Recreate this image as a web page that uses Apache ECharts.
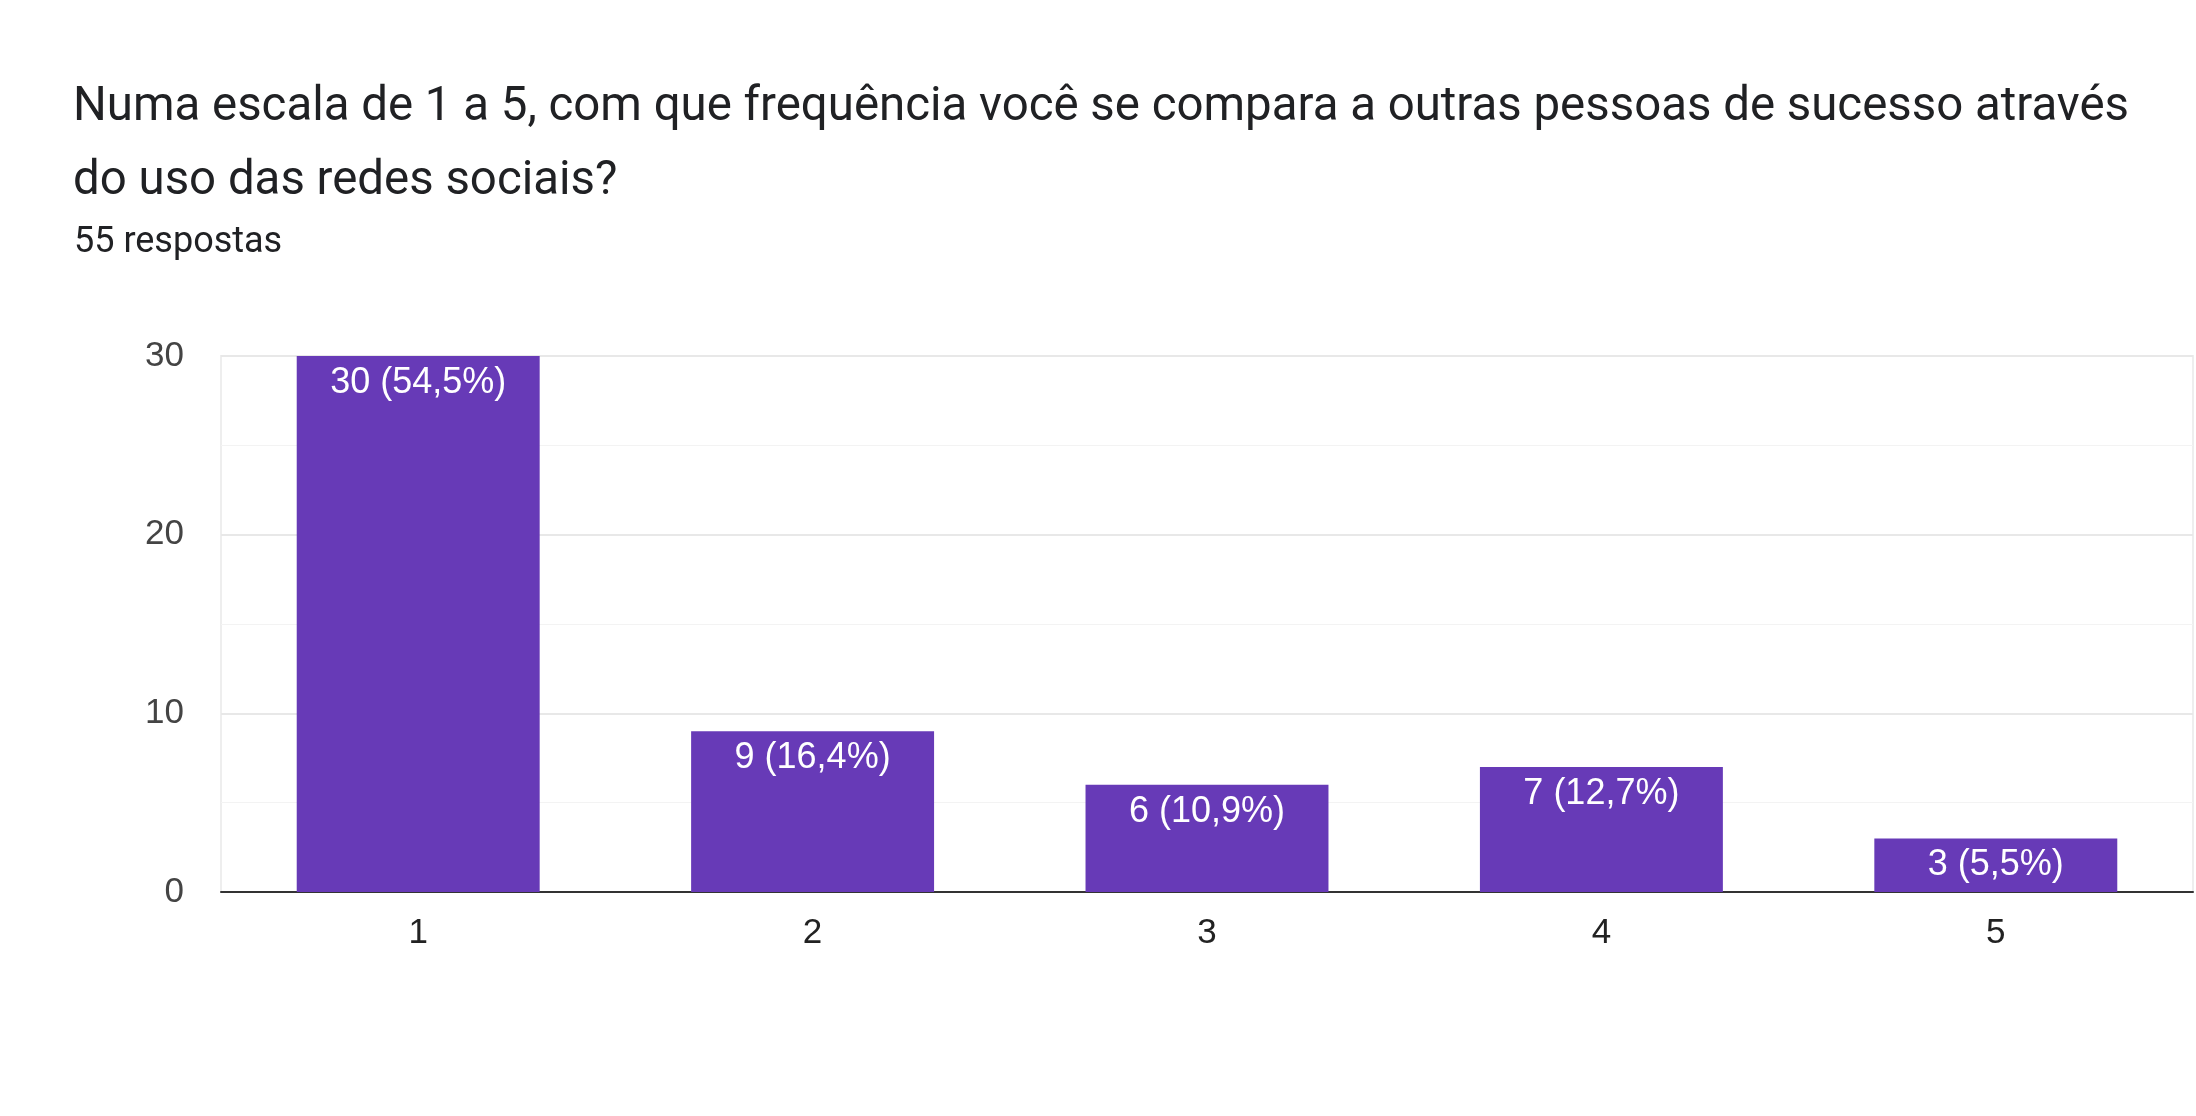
<!DOCTYPE html>
<html>
<head>
<meta charset="utf-8">
<title>55 respostas</title>
<script src="https://cdn.jsdelivr.net/npm/echarts@6/dist/echarts.min.js"></script>
<style>
  html, body { margin: 0; padding: 0; background: #fff; }
  #chart { width: 2196px; height: 1116px; }
</style>
</head>
<body>
<div id="chart"></div>
<script>
const categories = ['1', '2', '3', '4', '5'];
const counts = [30, 9, 6, 7, 3];
const percents = ['54,5%', '16,4%', '10,9%', '12,7%', '5,5%'];

const chart = echarts.init(document.getElementById('chart'));

// axis and bar text is Arial-like in the original, title is Roboto
const axisFont = '"Liberation Sans", Arial, sans-serif';

chart.setOption({
  animation: false,
  textStyle: { fontFamily: axisFont },
  title: [
    {
      text: 'Numa escala de 1 a 5, com que frequência você se compara a outras pessoas de sucesso através\ndo uso das redes sociais?',
      left: 68,
      top: 66,
      textStyle: { fontSize: 47.4, fontWeight: 'normal', color: '#202124', lineHeight: 74, fontFamily: 'Roboto' }
    },
    {
      text: '55 respostas',
      left: 69,
      top: 220,
      textStyle: { fontSize: 36, fontWeight: 'normal', color: '#202124', fontFamily: 'Roboto' }
    }
  ],
  grid: {
    left: 221,
    right: 3,
    top: 356,
    bottom: 224,
    show: true,
    borderColor: '#eeeeee',
    borderWidth: 2
  },
  xAxis: {
    type: 'category',
    data: categories,
    axisLine: { lineStyle: { color: '#333333', width: 2 } },
    axisTick: { show: false },
    axisLabel: { fontSize: 35, color: '#222222', margin: 24, fontFamily: axisFont }
  },
  yAxis: {
    type: 'value',
    min: 0,
    max: 30,
    interval: 10,
    axisLine: { show: false },
    axisTick: { show: false },
    axisLabel: { fontSize: 35, color: '#444444', margin: 37, fontFamily: axisFont },
    splitLine: { lineStyle: { color: '#e8e8e8', width: 2 } },
    minorTick: { show: false, splitNumber: 2 },
    minorSplitLine: { show: true, lineStyle: { color: '#f3f3f3', width: 1 } }
  },
  series: [
    {
      type: 'bar',
      data: counts,
      barWidth: '61.6%',
      itemStyle: { color: '#673ab7' },
      label: {
        show: true,
        position: 'insideTop',
        distance: 9,
        color: '#ffffff',
        fontSize: 36,
        fontFamily: axisFont,
        formatter: p => p.value + ' (' + percents[p.dataIndex] + ')'
      }
    }
  ]
});
</script>
</body>
</html>
